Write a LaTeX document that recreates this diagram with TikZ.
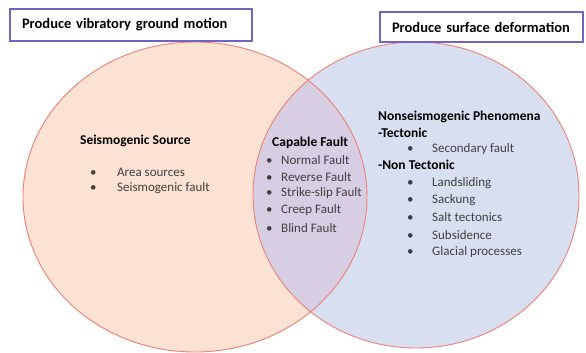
\documentclass[tikz,border=0pt]{standalone}
\usepackage{fontspec}
\setmainfont{Carlito}

\definecolor{peach}{RGB}{251,226,211}
\definecolor{paleblue}{RGB}{215,223,241}
\definecolor{lensviolet}{RGB}{215,206,228}
\definecolor{rimred}{RGB}{238,128,118}
\definecolor{boxviolet}{RGB}{112,100,192}
\definecolor{itemgray}{RGB}{64,64,64}

\begin{document}
\begin{tikzpicture}[
    x=1pt,
    y=-1pt,
    rim/.style={draw=rimred,line width=0.9pt},
    titlebox/.style={draw=boxviolet,line width=1.1pt,fill=white,inner xsep=12pt,
        align=left,font=\fontsize{14.5}{16}\selectfont\bfseries},
    head/.style={anchor=west,inner sep=0pt,font=\fontsize{13.5}{15}\selectfont\bfseries},
    item/.style={anchor=west,inner sep=0pt,text=itemgray,font=\fontsize{13}{15}\selectfont}
]

% =========================================================
% Параметры эллипсов
% =========================================================

\def\lx{195}  \def\ly{197}  \def\lrx{172pt}  \def\lry{155pt}
\def\rx{416}  \def\ry{195}  \def\rrx{163pt}  \def\rry{153pt}

\useasboundingbox (0,0) rectangle (586,353);

% =========================================================
% Заливка
% =========================================================

\fill[peach] (\lx,\ly) ellipse [x radius=\lrx, y radius=\lry];
\fill[paleblue] (\rx,\ry) ellipse [x radius=\rrx, y radius=\rry];

\begin{scope}
    \clip (\lx,\ly) ellipse [x radius=\lrx, y radius=\lry];
    \fill[lensviolet] (\rx,\ry) ellipse [x radius=\rrx, y radius=\rry];
\end{scope}

% =========================================================
% Контуры
% =========================================================

\draw[rim] (\lx,\ly) ellipse [x radius=\lrx, y radius=\lry];
\draw[rim] (\rx,\ry) ellipse [x radius=\rrx, y radius=\rry];

% =========================================================
% Заголовки
% =========================================================

\node[titlebox,text width=218pt,minimum height=32pt] (vibr) at (131,25)
    {Produce vibratory ground motion};
\node[titlebox,text width=179pt,minimum height=30pt] (deform) at (481.5,27)
    {Produce surface deformation};

% =========================================================
% Левая область
% =========================================================

\node[head] (seis) at (80,141) {Seismogenic Source};
\node[item] (area) at (90,172) {\makebox[27pt][l]{\textbullet}Area sources};
\node[item] (sfault) at (90,188) {\makebox[27pt][l]{\textbullet}Seismogenic fault};

% =========================================================
% Пересечение
% =========================================================

\node[head] (capable) at (272,143) {Capable Fault};
\node[item] (normal)  at (266,160) {\makebox[15pt][l]{\textbullet}Normal Fault};
\node[item] (reverse) at (266,177) {\makebox[15pt][l]{\textbullet}Reverse Fault};
\node[item] (strike)  at (266,193) {\makebox[15pt][l]{\textbullet}Strike-slip Fault};
\node[item] (creep)   at (266,210) {\makebox[15pt][l]{\textbullet}Creep Fault};
\node[item] (blind)   at (266,228) {\makebox[15pt][l]{\textbullet}Blind Fault};

% =========================================================
% Правая область
% =========================================================

\node[head] (nonseis) at (378,117) {Nonseismogenic Phenomena};
\node[head] (tect)    at (378,133) {-Tectonic};
\node[item] (second)  at (407,149) {\makebox[25pt][l]{\textbullet}Secondary fault};
\node[head] (nontect) at (378,165) {-Non Tectonic};
\node[item] (lands)   at (407,183) {\makebox[25pt][l]{\textbullet}Landsliding};
\node[item] (sack)    at (407,200) {\makebox[25pt][l]{\textbullet}Sackung};
\node[item] (salt)    at (407,217) {\makebox[25pt][l]{\textbullet}Salt tectonics};
\node[item] (subs)    at (407,235) {\makebox[25pt][l]{\textbullet}Subsidence};
\node[item] (glac)    at (407,252) {\makebox[25pt][l]{\textbullet}Glacial processes};

\end{tikzpicture}
\end{document}
